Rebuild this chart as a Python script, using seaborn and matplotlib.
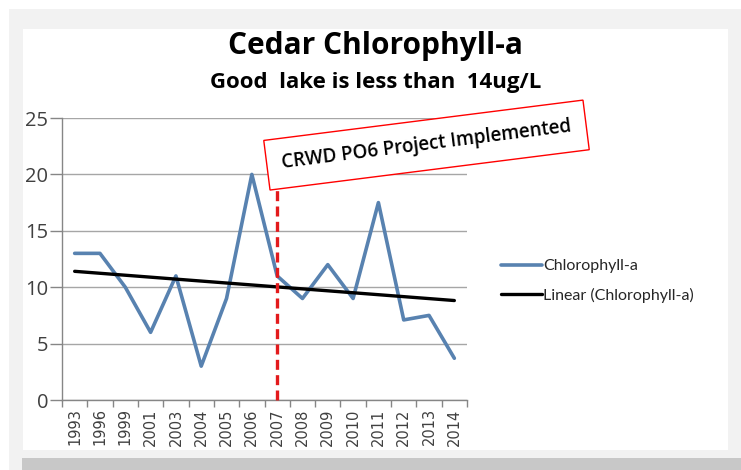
import numpy as np
import matplotlib
matplotlib.use("Agg")
import matplotlib.pyplot as plt
from matplotlib.patches import Rectangle
import seaborn as sns

years = ["1993", "1996", "1999", "2001", "2003", "2004", "2005", "2006",
         "2007", "2008", "2009", "2010", "2011", "2012", "2013", "2014"]
chlorophyll = [13, 13, 10, 6, 11, 3, 9, 20, 11, 9, 12, 9, 17.5, 7.1, 7.5, 3.7]
y_ticks = [0, 5, 10, 15, 20, 25]
project_year = "2007"
title = "Cedar Chlorophyll-a"
subtitle = "Good  lake is less than  14ug/L"
annotation = "CRWD PO6 Project Implemented"

sns.set_theme(style="white")
plt.rcParams['font.family'] = ['Open Sans', 'DejaVu Sans']

W, H = 741, 470
fig = plt.figure(figsize=(W / 100, H / 100), dpi=100)
fig.patch.set_facecolor("white")

def px_rect(x0, y0, x1, y1, color, z=-10):
    fig.patches.append(Rectangle((x0 / W, 1 - y1 / H), (x1 - x0) / W, (y1 - y0) / H,
                                 transform=fig.transFigure, facecolor=color,
                                 edgecolor="none", zorder=z))

px_rect(9, 9, 741, 470, "#f2f2f2", -12)
px_rect(22, 458, 741, 470, "#c8c8c8", -11)
px_rect(23, 29, 728, 450, "white", -10)

ax = fig.add_axes([62 / W, 1 - 400 / H, (467 - 62) / W, (400 - 118) / H])
ax.set_facecolor("none")

x = np.arange(len(years))
coef = np.polyfit(x, chlorophyll, 1)
trend = np.polyval(coef, x)

sns.lineplot(x=x, y=chlorophyll, ax=ax, color="#5882b0", linewidth=2.6,
             label="Chlorophyll-a", zorder=3)
sns.lineplot(x=x, y=trend, ax=ax, color="black", linewidth=2.4,
             label="Linear (Chlorophyll-a)", zorder=4)

ax.set_xlim(-0.5, len(years) - 0.5)
ax.set_ylim(0, 25)
ax.set_yticks(y_ticks)
ax.set_yticklabels([str(v) for v in y_ticks], fontfamily="Open Sans",
                   fontsize=14.5, color="#404040")
ax.set_xticks(x)
ax.set_xticklabels(years, rotation=90, fontfamily="DejaVu Sans", fontsize=10.5,
                   color="#404040")
ax.set_xticks(np.arange(len(years) + 1) - 0.5, minor=True)
ax.tick_params(axis="x", which="major", length=0, pad=6)
ax.tick_params(axis="x", which="minor", length=5, width=1, color="#868686",
               direction="out", bottom=True)
ax.tick_params(axis="y", which="major", length=9, width=1, color="#868686",
               direction="out", left=True, pad=1)
ax.grid(axis="y", color="#a6a6a6", linewidth=1)
ax.set_axisbelow(True)
for s in ["top", "right"]:
    ax.spines[s].set_visible(False)
for s in ["left", "bottom"]:
    ax.spines[s].set_color("#868686")
    ax.spines[s].set_linewidth(1)
ax.set_xlabel("")
ax.set_ylabel("")

# dashed project line
px_idx = years.index(project_year)
ax.plot([px_idx, px_idx], [0, 20], color="#e31a1c", linestyle=(0, (3, 1.6)),
        linewidth=2.4, zorder=5, clip_on=False)

# rotated annotation box
ax.text(13.9, 22.6, annotation, rotation=7.2, rotation_mode="anchor",
        ha="center", va="center", fontsize=13.5, color="black",
        fontfamily="Open Sans", fontweight="semibold", zorder=6,
        bbox=dict(boxstyle="square,pad=0.8", facecolor="white",
                  edgecolor="#ff0000", linewidth=1), clip_on=False)

leg = ax.legend(loc="center left", bbox_to_anchor=(487 / W, 1 - 281 / H),
                bbox_transform=fig.transFigure, frameon=False, fontsize=11.5,
                handlelength=2.55, handletextpad=0.05, labelspacing=0.9,
                prop={"family": "Lato", "size": 11.5})
for t in leg.get_texts():
    t.set_color("#262626")

fig.text(375 / W, 1 - 54 / H, title, ha="center", va="baseline",
         fontsize=21.5, fontweight="bold", color="black")
fig.text(376 / W, 1 - 88 / H, subtitle, ha="center", va="baseline",
         fontsize=16, fontweight="bold", color="black")

fig.savefig("out.png", dpi=100)
